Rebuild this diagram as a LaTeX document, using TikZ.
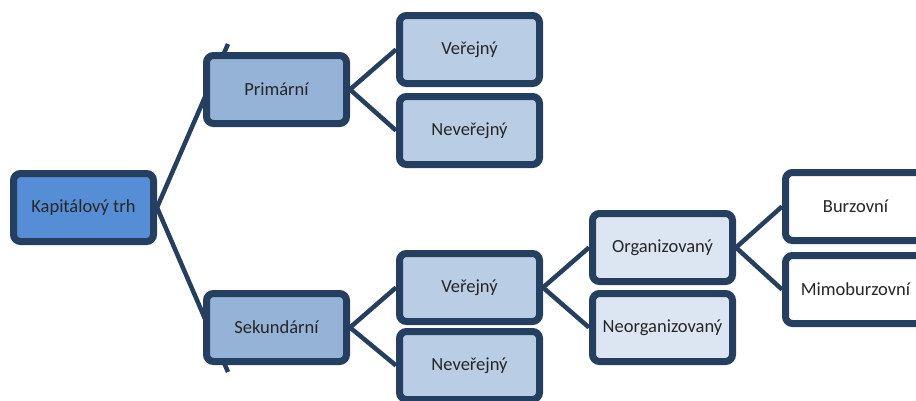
\documentclass[tikz,border=0pt]{standalone}
\usepackage{fontspec}
\setmainfont{Carlito}
\usetikzlibrary{shadows}
\definecolor{navy}{HTML}{243F60}
\definecolor{c1}{HTML}{558ED5}
\definecolor{c2}{HTML}{95B3D7}
\definecolor{c3}{HTML}{B9CDE5}
\definecolor{c4}{HTML}{DCE6F2}
\begin{document}
\begin{tikzpicture}[x=1pt,y=-1pt,
  box/.style={draw=navy,line width=7pt,rounded corners=7pt,minimum width=140pt,minimum height=68pt,
    inner sep=0pt,font=\fontsize{18.5}{20}\selectfont,text=black!85,
    drop shadow={shadow xshift=1pt,shadow yshift=-3pt,opacity=0.25,fill=black}},
  conn/.style={draw=navy,line width=4.5pt}]
\useasboundingbox (0,0) rectangle (916,400);
\clip (0,0) rectangle (916,400);
% connector ends
\coordinate (ptop) at (228,44);
\coordinate (pbot) at (228,372);
\coordinate (kapE) at (157,207.5);
\coordinate (primE) at (350,89.5);
\coordinate (sekE) at (350,327.5);
\coordinate (v2E) at (543,287.5);
\coordinate (orgE) at (736,247.5);
\draw[conn] (kapE) -- (ptop);
\draw[conn] (kapE) -- (pbot);
\draw[conn] (primE) -- (396,49.5) coordinate (v1W);
\draw[conn] (primE) -- (396,130.5) coordinate (n1W);
\draw[conn] (sekE) -- (396,287.5) coordinate (v2W);
\draw[conn] (sekE) -- (396,365.5) coordinate (n2W);
\draw[conn] (v2E) -- (589,247.5) coordinate (orgW);
\draw[conn] (v2E) -- (589,327.5) coordinate (neoW);
\draw[conn] (orgE) -- (782,206.5) coordinate (burW);
\draw[conn] (orgE) -- (782,289.5) coordinate (mimW);
% boxes
\node[box,fill=c1] (kap) at (83.5,207.5) {Kapitálový trh};
\node[box,fill=c2] (prim) at (276.5,89.5) {Primární};
\node[box,fill=c2] (sek) at (276.5,327.5) {Sekundární};
\node[box,fill=c3] (v1) at (469.5,49.5) {Veřejný};
\node[box,fill=c3] (n1) at (469.5,130.5) {Neveřejný};
\node[box,fill=c3] (v2) at (469.5,287.5) {Veřejný};
\node[box,fill=c3] (n2) at (469.5,365.5) {Neveřejný};
\node[box,fill=c4] (org) at (662.5,247.5) {Organizovaný};
\node[box,fill=c4] (neo) at (662.5,327.5) {Neorganizovaný};
\node[box,fill=white] (bur) at (855.5,206.5) {Burzovní};
\node[box,fill=white] (mim) at (855.5,289.5) {Mimoburzovní};
\end{tikzpicture}
\end{document}
